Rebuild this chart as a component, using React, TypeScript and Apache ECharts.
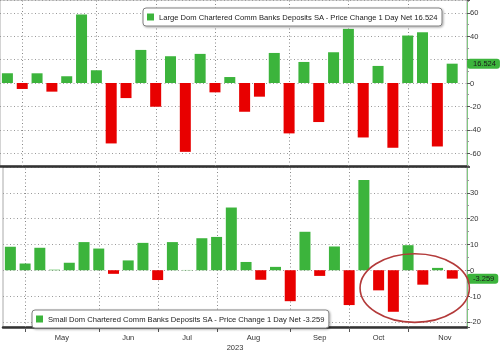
import React, { useEffect, useRef } from 'react';
import * as echarts from 'echarts';

// Weekly observation dates (Wednesdays)
const dates = [
  '2023-04-26',
  '2023-05-03', '2023-05-10', '2023-05-17', '2023-05-24', '2023-05-31',
  '2023-06-07', '2023-06-14', '2023-06-21', '2023-06-28',
  '2023-07-05', '2023-07-12', '2023-07-19', '2023-07-26',
  '2023-08-02', '2023-08-09', '2023-08-16', '2023-08-23', '2023-08-30',
  '2023-09-06', '2023-09-13', '2023-09-20', '2023-09-27',
  '2023-10-04', '2023-10-11', '2023-10-18', '2023-10-25',
  '2023-11-01', '2023-11-08', '2023-11-15', '2023-11-22',
];

const largeValues = [
  8.3, -5.1, 8.3, -7.4, 5.7, 58.6, 10.9, -51.7, -12.9, 28.3, -20.3, 22.9, -58.9, 24.9, -8.0, 5.1,
  -24.6, -11.7, 25.7, -43.1, 18.0, -33.4, 26.3, 46.3, -46.6, 14.6, -55.4, 40.6, 43.4, -54.3, 16.524,
];

const smallValues = [
  9.1, 2.6, 8.7, 0.2, 2.9, 10.9, 8.4, -1.4, 3.8, 10.6, -3.8, 10.9, 0.1, 12.4, 12.9, 24.3,
  3.2, -3.7, 1.3, -12.0, 14.9, -2.2, 9.2, -13.5, 35.0, -7.8, -16.1, 9.7, -5.6, 0.9, -3.259,
];

const monthNames = ['Jan', 'Feb', 'Mar', 'Apr', 'May', 'Jun', 'Jul', 'Aug', 'Sep', 'Oct', 'Nov', 'Dec'];
const yearLabel = '2023';
const largeName = 'Large Dom Chartered Comm Banks Deposits SA - Price Change 1 Day Net';
const smallName = 'Small Dom Chartered Comm Banks Deposits SA - Price Change 1 Day Net';

const GREEN = '#3cb43c';
const RED = '#e80000';
const FONT = 'Liberation Sans';
const GRID_LINE = { color: '#9a9a9a', type: [1, 2.5], width: 1 };
const VGRID_LINE = { color: '#888', type: [1, 2.5], width: 1 };

const TOP_RANGE = [-71, 71];
const BOTTOM_RANGE = [-22, 40];

function parse(s: string) {
  const [y, m, d] = s.split('-').map(Number);
  return { y, m, d };
}

// month start indices & label centers (in index units)
const monthStarts: number[] = [];
const monthCenters: { c: number; name: string }[] = [];
dates.forEach((s, i) => {
  if (i === 0) return;
  const cur = parse(s);
  const prev = parse(dates[i - 1]);
  if (cur.m !== prev.m) {
    monthStarts.push(i);
    const dim = new Date(cur.y, cur.m, 0).getDate();
    const n = Math.floor((dim - cur.d) / 7) + 1;
    monthCenters.push({ c: i + n / 2, name: monthNames[cur.m - 1] });
  }
});

const barData = (vals: number[]) =>
  vals.map((v, i) => ({ value: [i, v], itemStyle: { color: v >= 0 ? GREEN : RED } }));

const legendBase = {
  orient: 'horizontal',
  itemWidth: 7,
  itemHeight: 7,
  padding: [5, 4, 5, 4],
  backgroundColor: '#fff',
  borderColor: '#808080',
  borderWidth: 1,
  borderRadius: 3,
  shadowColor: 'rgba(0,0,0,0.35)',
  shadowBlur: 2,
  shadowOffsetX: 1,
  shadowOffsetY: 1,
  selectedMode: false,
  textStyle: { fontSize: 7.6, color: '#222', fontFamily: FONT },
};

function tagPointer(v: number) {
  return {
    show: true,
    type: 'none',
    value: v,
    status: 'show',
    triggerTooltip: false,
    label: {
      show: true,
      formatter: () => v.toFixed(3),
      backgroundColor: GREEN,
      color: '#1a1a1a',
      padding: [1, 4, 1, 6],
      fontSize: 7.5,
      fontFamily: FONT,
      margin: 0,
    },
  };
}

function yAxisBase(grid: number, range: number[], split: number, step: number, last: number, hideNear: number) {
  const [min, max] = range;
  return {
    gridIndex: grid,
    type: 'value',
    position: 'right',
    min,
    max,
    splitNumber: split,
    axisLine: { show: true, onZero: false, lineStyle: { color: '#80c880', width: 1 } },
    axisTick: { show: true, inside: false, length: 3, lineStyle: { color: '#555' } },
    minorTick: { show: true, splitNumber: 2, length: 2, lineStyle: { color: '#999' } },
    axisLabel: {
      fontSize: 7.5,
      color: '#333',
      fontFamily: FONT,
      margin: 3,
      formatter: (v: number) =>
        Math.abs(v % step) < 1e-9 && v < max && v > min && Math.abs(v - last) > hideNear ? String(v) : '',
    },
    splitLine: { show: true, lineStyle: GRID_LINE },
    axisPointer: tagPointer(last),
  };
}

export default function App() {
  const ref = useRef<HTMLDivElement>(null);
  useEffect(() => {
    if (!ref.current) return;
    const chart = echarts.init(ref.current, undefined, { renderer: 'svg' });
    const lastLarge = largeValues[largeValues.length - 1];
    const lastSmall = smallValues[smallValues.length - 1];
    chart.setOption({
      animation: false,
      textStyle: { fontFamily: FONT },
      grid: [
        { left: 0, right: 33, top: 0, height: 166, show: true, borderColor: '#aaa', borderWidth: 1, backgroundColor: 'transparent' },
        { left: 0, right: 33, top: 167, height: 162, show: true, borderColor: '#aaa', borderWidth: 1, backgroundColor: 'transparent' },
      ],
      xAxis: [
        {
          gridIndex: 0,
          type: 'value',
          min: -0.5,
          max: 31,
          axisLine: { show: true, onZero: false, lineStyle: { color: '#333', width: 2.5 } },
          axisTick: { show: false },
          axisLabel: { show: false },
          splitLine: { show: false },
        },
        {
          gridIndex: 1,
          type: 'value',
          min: -0.5,
          max: 31,
          interval: 0.5,
          axisLine: { show: true, onZero: false, lineStyle: { color: '#333', width: 2.5 } },
          axisTick: { show: false },
          axisLabel: {
            fontSize: 7.5,
            color: '#333',
            fontFamily: FONT,
            margin: 6,
            formatter: (v: number) => {
              const m = monthCenters.find((mc) => Math.abs(mc.c - v) < 1e-6);
              return m ? m.name : '';
            },
          },
          splitLine: { show: false },
          name: yearLabel,
          nameLocation: 'middle',
          nameGap: 16,
          nameTextStyle: { fontSize: 7.5, color: '#333', fontFamily: FONT },
        },
      ],
      yAxis: [
        yAxisBase(0, TOP_RANGE, 7, 20, lastLarge, 8),
        yAxisBase(1, BOTTOM_RANGE, 6, 10, lastSmall, 3),
      ],
      legend: [
        {
          ...legendBase,
          left: 143,
          top: 8,
          data: [{ name: largeName, icon: 'rect' }],
          formatter: (n: string) => `${n} ${lastLarge}`,
        },
        {
          ...legendBase,
          left: 32,
          top: 310,
          data: [{ name: smallName, icon: 'rect' }],
          formatter: (n: string) => `${n} ${lastSmall}`,
        },
      ],
      series: [
        {
          name: largeName,
          type: 'bar',
          xAxisIndex: 0,
          yAxisIndex: 0,
          barWidth: 11,
          itemStyle: { color: GREEN },
          data: barData(largeValues),
        },
        {
          name: smallName,
          type: 'bar',
          xAxisIndex: 1,
          yAxisIndex: 1,
          barWidth: 11,
          itemStyle: { color: GREEN },
          data: barData(smallValues),
        },
      ],
    });

    // month-start vertical dotted grid lines and bottom tick marks, positioned through the axes
    const vlines: any[] = [];
    [
      { grid: 0, range: TOP_RANGE },
      { grid: 1, range: BOTTOM_RANGE },
    ].forEach(({ grid, range }) => {
      monthStarts.forEach((s) => {
        const p0 = chart.convertToPixel({ gridIndex: grid }, [s, range[0]]) as number[];
        const p1 = chart.convertToPixel({ gridIndex: grid }, [s, range[1]]) as number[];
        const x = Math.round(p0[0]) + 0.5;
        vlines.push({
          type: 'line',
          silent: true,
          z: 1,
          shape: { x1: x, y1: p0[1], x2: x, y2: p1[1] },
          style: { stroke: VGRID_LINE.color, lineWidth: VGRID_LINE.width, lineDash: VGRID_LINE.type },
        });
        if (grid === 1) {
          vlines.push({
            type: 'line',
            silent: true,
            z: 1,
            shape: { x1: x, y1: p0[1] + 2, x2: x, y2: p0[1] + 5 },
            style: { stroke: '#555', lineWidth: 1 },
          });
        }
      });
    });

    // annotation ellipse around the latest weeks in the lower panel
    const center = chart.convertToPixel({ gridIndex: 1 }, [27.45, -6.9]) as number[];
    const corner = chart.convertToPixel({ gridIndex: 1 }, [27.45 + 3.71, -6.9 - 13.3]) as number[];
    chart.setOption({
      graphic: [
        ...vlines,
        {
          type: 'ellipse',
          z: 100,
          silent: true,
          shape: { cx: center[0], cy: center[1], rx: corner[0] - center[0], ry: corner[1] - center[1] },
          style: { fill: 'none', stroke: '#b33a3a', lineWidth: 1.6 },
        },
      ],
    });
    return () => chart.dispose();
  }, []);
  return <div ref={ref} style={{ position: 'fixed', left: 0, top: 0, width: 500, height: 352 }} />;
}
